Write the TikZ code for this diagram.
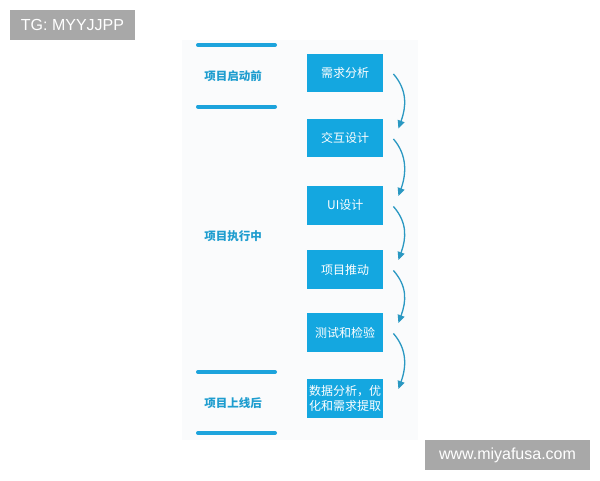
\documentclass[tikz,border=0pt]{standalone}
\usepackage{fontspec}
\setmainfont{Liberation Sans}
\newfontfamily\cjk{Noto Sans CJK SC}
\usetikzlibrary{arrows.meta}
\definecolor{boxblue}{HTML}{14A7E0}
\definecolor{labblue}{HTML}{1E9DCF}
\definecolor{barblue}{HTML}{1CA3DC}
\definecolor{arrblue}{HTML}{2A98C2}
\definecolor{wmgray}{HTML}{A8A8A8}
\definecolor{panel}{HTML}{FAFBFC}
\tikzset{
  stepbox/.style={fill=boxblue, text=white, minimum width=76pt, minimum height=38.5pt, inner sep=1pt, font=\cjk\fontsize{12}{15}\selectfont, align=center, anchor=north west},
  phaselabel/.style={text=labblue, font=\cjk\bfseries\fontsize{11.5}{14}\selectfont},
  phasebar/.style={draw=barblue, line width=4pt, line cap=round},
  flow/.style={draw=arrblue, line width=1.3pt, -{Triangle[length=8pt,width=7pt]}},
  watermark/.style={fill=wmgray, text=white, inner sep=0pt, font=\fontsize{16}{18}\selectfont}
}
\begin{document}
\begin{tikzpicture}[x=1pt,y=-1pt]
\useasboundingbox (0,0) rectangle (600,480);
\fill[white] (0,0) rectangle (600,480);
\fill[panel] (182,40) rectangle (418,440);
% watermarks
\node[watermark, minimum width=125pt, minimum height=30pt] (wm1) at (72.5,25) {TG: MYYJJPP};
\node[watermark, minimum width=165pt, minimum height=30pt] (wm2) at (507.5,455) {www.miyafusa.com};
% phase bars
\draw[phasebar] (198,45) -- (275,45);
\draw[phasebar] (198,106.5) -- (275,106.5);
\draw[phasebar] (198,372) -- (275,372);
\draw[phasebar] (198,433) -- (275,433);
% phase labels
\node[phaselabel] (p1) at (233,76) {项目启动前};
\node[phaselabel] (p2) at (233,236) {项目执行中};
\node[phaselabel] (p3) at (233,403) {项目上线后};
% step boxes
\node[stepbox] (b1) at (307,53.5) {需求分析};
\node[stepbox] (b2) at (307,118.5) {交互设计};
\node[stepbox] (b3) at (307,186) {UI设计};
\node[stepbox] (b4) at (307,250) {项目推动};
\node[stepbox] (b5) at (307,313) {测试和检验};
\node[stepbox] (b6) at (307,379) {数据分析，优\\化和需求提取};
% flow arrows
\foreach \a/\b in {b1/b2,b2/b3,b3/b4,b4/b5,b5/b6}{
  \draw[flow] ([xshift=10pt,yshift=-1pt]\a.east) .. controls +(14,16) and +(8,-22) .. ([xshift=15pt,yshift=-10pt]\b.north east);
}
\end{tikzpicture}
\end{document}
